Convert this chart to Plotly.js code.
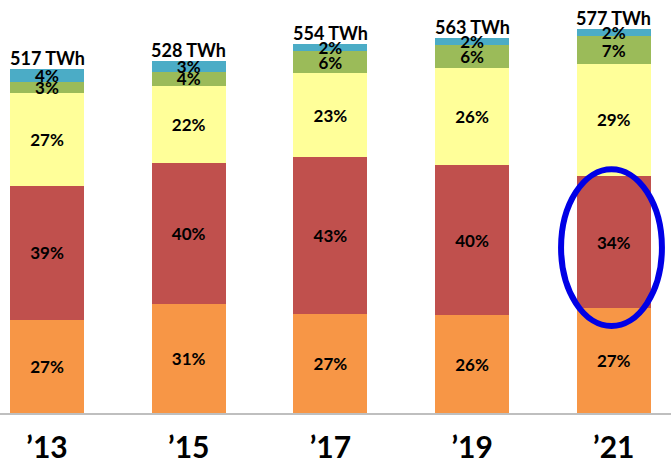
<!DOCTYPE html>
<html>
<head>
<meta charset="utf-8">
<script src="https://cdn.plot.ly/plotly-3.0.1.min.js"></script>
<style>html,body{margin:0;padding:0;background:#fff}#chart{width:671px;height:462px}</style>
</head>
<body>
<div id="chart"></div>
<script>
const years = ["\u201913", "\u201915", "\u201917", "\u201919", "\u201921"];
const totals = [517, 528, 554, 563, 577];
const pctOrange = [27, 31, 27, 26, 27];
const pctRed = [39, 40, 43, 40, 34];
const pctYellow = [27, 22, 23, 26, 29];
const pctGreen = [3, 4, 6, 6, 7];
const pctBlue = [4, 3, 2, 2, 2];

const series = [
  {pct: pctOrange, color: "#F79646"},
  {pct: pctRed, color: "#C0504D"},
  {pct: pctYellow, color: "#FFFF99"},
  {pct: pctGreen, color: "#9BBB59"},
  {pct: pctBlue, color: "#4BACC6"}
];
const xs = years.map((_, i) => i);
const sums = xs.map(i => series.reduce((s, d) => s + d.pct[i], 0));
const FONT = "Lato, 'Open Sans', sans-serif";

const traces = series.map(s => ({
  type: "bar",
  x: xs,
  y: xs.map(i => s.pct[i] / sums[i] * totals[i]),
  width: 0.522,
  marker: {color: s.color, line: {width: 0}},
  text: s.pct.map(p => p + "%"),
  textposition: "inside",
  insidetextanchor: "middle",
  constraintext: "none",
  textangle: 0,
  textfont: {family: FONT, size: 17, color: "#000", weight: "bold"},
  hoverinfo: "skip"
}));

const annotations = xs.map(i => ({
  x: i, y: totals[i], xref: "x", yref: "y",
  text: totals[i] + " TWh", showarrow: false,
  yanchor: "bottom", yshift: -2,
  font: {family: FONT, size: 18, color: "#000", weight: "bold"}
}));

const layout = {
  width: 671, height: 462,
  margin: {l: 0, r: 0, t: 0, b: 49},
  barmode: "stack",
  showlegend: false,
  paper_bgcolor: "#fff", plot_bgcolor: "#fff",
  xaxis: {
    range: [-0.332, 4.404],
    tickvals: xs, ticktext: years,
    showgrid: false, zeroline: false,
    showline: true, linecolor: "#BFBFBF", linewidth: 1.5,
    ticks: "", ticklabelstandoff: 7,
    tickfont: {family: FONT, size: 30, color: "#000", weight: "bold"},
    fixedrange: true
  },
  yaxis: {
    range: [0, 620], visible: false, showgrid: false, zeroline: false, fixedrange: true
  },
  annotations: annotations,
  shapes: [{
    type: "circle", xref: "x", yref: "y",
    x0: 3.628, x1: 4.340, y0: 130.6, y1: 366,
    line: {color: "#0000E6", width: 6}, fillcolor: "rgba(0,0,0,0)"
  }]
};

Plotly.newPlot("chart", traces, layout, {displayModeBar: false, staticPlot: true});
</script>
</body>
</html>
